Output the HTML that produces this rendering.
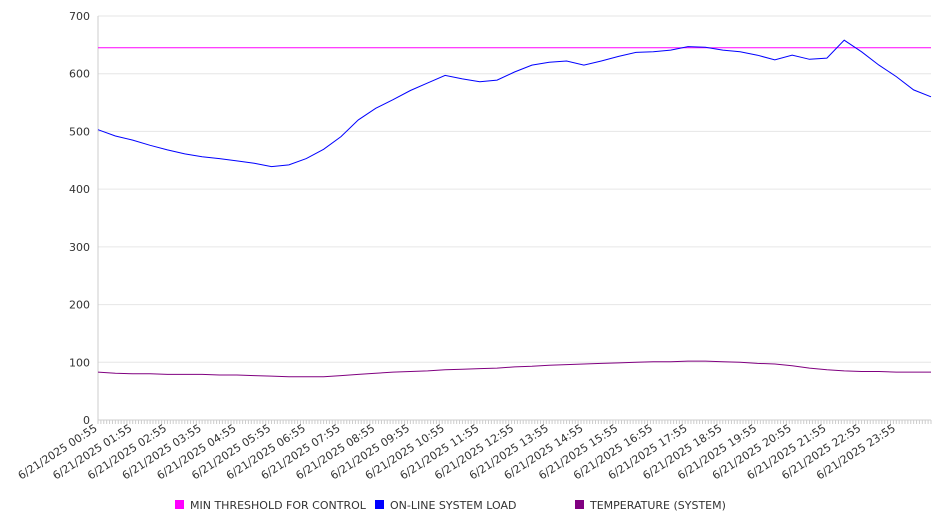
<!DOCTYPE html>
<html><head><meta charset="utf-8"><style>
body{margin:0;background:#fff;}
svg{display:block;font-family:"DejaVu Sans","Liberation Sans",sans-serif;}
</style></head><body>
<svg id="chart" width="946" height="526" viewBox="0 0 946 526" xmlns="http://www.w3.org/2000/svg">
<g id="grid"></g>
<g id="yaxis"></g>
<g id="xaxis"></g>
<g id="series"></g>
<g font-size="11" fill="#333">
 <rect x="175" y="500" width="9" height="9" fill="#ff00ff"/>
 <text x="190" y="509">MIN THRESHOLD FOR CONTROL</text>
 <rect x="375" y="500" width="9" height="9" fill="#0000ff"/>
 <text x="390" y="509">ON-LINE SYSTEM LOAD</text>
 <rect x="575" y="500" width="9" height="9" fill="#800080"/>
 <text x="590" y="509">TEMPERATURE (SYSTEM)</text>
</g>
</svg>
<script>
const hourLabels = ["00:55","01:55","02:55","03:55","04:55","05:55","06:55","07:55","08:55","09:55","10:55","11:55","12:55","13:55","14:55","15:55","16:55","17:55","18:55","19:55","20:55","21:55","22:55","23:55"];
const yTicks = [0,100,200,300,400,500,600,700];
const loadValues = [503,492,485,476,468,461,456,453,449,445,439,442,453,469,491,520,540,555,571,584,597,591,586,589,603,615,620,622,615,622,630,637,638,641,647,646,641,638,632,624,632,625,627,658,638,615,595,572,560];
const tempValues = [83,81,80,80,79,79,79,78,78,77,76,75,75,75,77,79,81,83,84,85,87,88,89,90,92,93,95,96,97,98,99,100,101,101,102,102,101,100,98,97,94,90,87,85,84,84,83,83,83];
const thresholdValue = 645;

const NS="http://www.w3.org/2000/svg";
const X0=98,X1=931,Y0=420,Y1=16,YMAX=700;
const nHalf=loadValues.length-1;
function xs(i){return X0+(X1-X0)*i/nHalf;}
function ys(v){return Y0-(Y0-Y1)*v/YMAX;}
function mk(tag,attrs,parent){const e=document.createElementNS(NS,tag);for(const k in attrs)e.setAttribute(k,attrs[k]);parent.appendChild(e);return e;}
const grid=document.getElementById('grid'),yax=document.getElementById('yaxis'),xax=document.getElementById('xaxis'),ser=document.getElementById('series');
yTicks.forEach(t=>{
 const l=mk('line',{x1:X0,x2:X1,y1:ys(t),y2:ys(t),stroke:'#e6e6e6','stroke-width':1},grid);
 
 
 const tx=mk('text',{x:X0-8,y:ys(t)+4,'text-anchor':'end','font-size':11,fill:'#333'},yax);
 tx.textContent=t;
 
 
});
const ya=mk('line',{x1:X0,x2:X0,y1:Y1,y2:Y0,stroke:'#ccc'},yax);


const xa=mk('line',{x1:X0,x2:X1,y1:Y0,y2:Y0,stroke:'#ccc'},xax);


const nTicks=nHalf*6;
for(let k=0;k<=nTicks;k++){
 const x=X0+(X1-X0)*k/nTicks;
 const tk=mk('line',{x1:x,x2:x,y1:Y0,y2:Y0+4,stroke:'#ccc'},xax);
 
 
}
hourLabels.forEach((h,i)=>{
 const x=xs(i*2),y=Y0+10;
 const tx=mk('text',{x:x,y:y,'text-anchor':'end','font-size':11,fill:'#333',transform:`rotate(-33 ${x} ${y})`},xax);
 tx.textContent='6/21/2025 '+h;
 
 
});
const th=mk('line',{x1:X0,x2:X1,y1:ys(thresholdValue),y2:ys(thresholdValue),stroke:'#ff00ff','stroke-width':1},ser);


function path(vals,color,name){
 const d=vals.map((v,i)=>(i?'L':'M')+xs(i).toFixed(1)+','+ys(v).toFixed(1)).join(' ');
 const p=mk('path',{d:d,fill:'none',stroke:color,'stroke-width':1},ser);
 
 
}
path(loadValues,'#0000ff','load-line');
path(tempValues,'#800080','temperature-line');
</script>
</body></html>
